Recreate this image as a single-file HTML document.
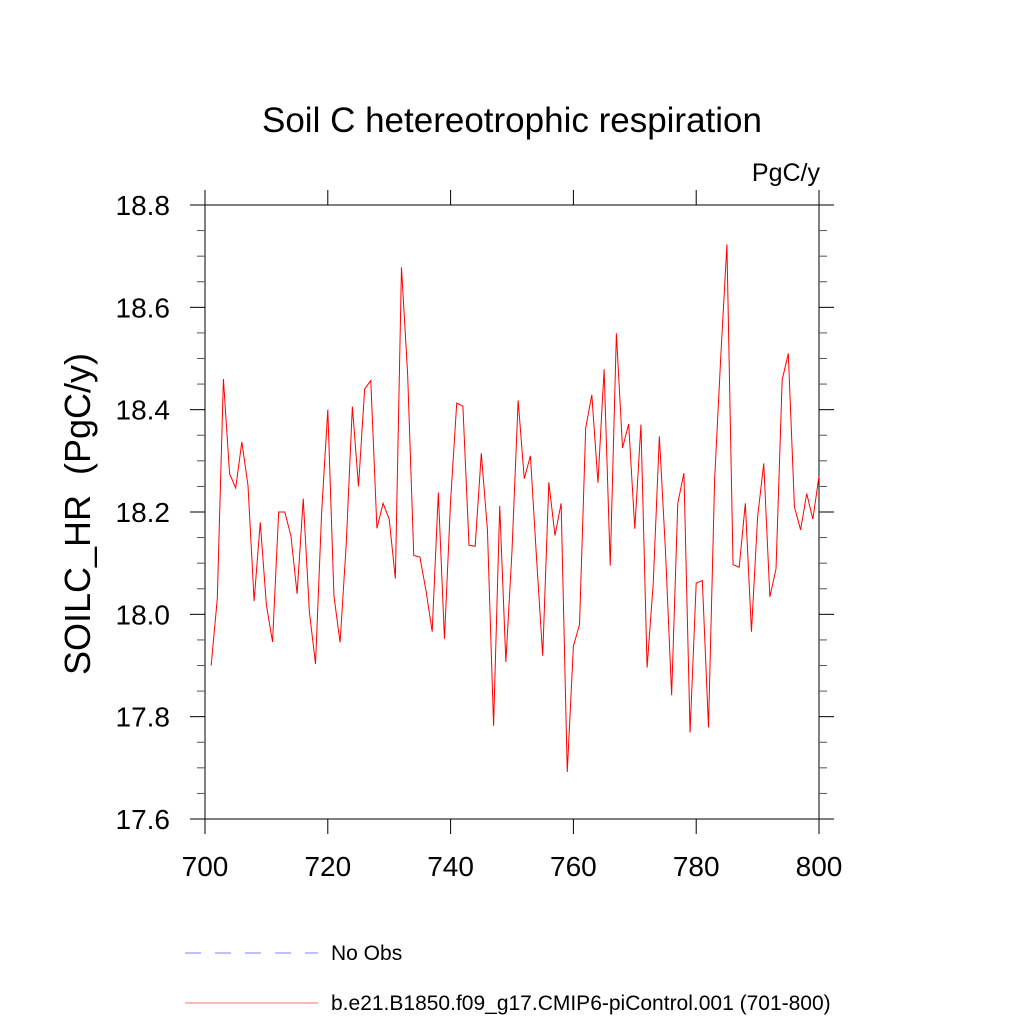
<!DOCTYPE html>
<html><head><meta charset="utf-8"><style>
html,body{margin:0;padding:0;background:#fff;}
svg{display:block;font-family:"Liberation Sans",sans-serif;}
</style></head><body>
<svg id="chart" width="1024" height="1024" viewBox="0 0 1024 1024" xmlns="http://www.w3.org/2000/svg">
<rect width="1024" height="1024" fill="#fff"/>
<text x="512" y="132" font-size="35" text-anchor="middle">Soil C hetereotrophic respiration</text>
<text x="820" y="181" font-size="25" text-anchor="end">PgC/y</text>
<text transform="translate(90,514) rotate(-90)" font-size="36" text-anchor="middle" xml:space="preserve">SOILC_HR  (PgC/y)</text>
<g id="axes"></g>
<g id="series"></g>
<g>
<line x1="185" y1="953" x2="318" y2="953" stroke="#8080ff" stroke-width="1" stroke-dasharray="16,14"/>
<text x="331" y="960" font-size="21">No Obs</text>
<line x1="185" y1="1003" x2="318" y2="1003" stroke="#ee7070" stroke-width="1"/>
<text x="331" y="1010" font-size="21">b.e21.B1850.f09_g17.CMIP6-piControl.001 (701-800)</text>
</g>
</svg>
<script>
const years = [];
for (let y = 701; y <= 800; y++) years.push(y);
const values = [17.90,18.03,18.46,18.275,18.247,18.337,18.252,18.026,18.18,18.018,
17.946,18.20,18.20,18.153,18.04,18.226,18.005,17.903,18.20,18.40,
18.036,17.945,18.137,18.406,18.25,18.44,18.457,18.168,18.217,18.186,
18.07,18.678,18.47,18.115,18.112,18.046,17.966,18.238,17.952,18.222,
18.413,18.407,18.135,18.133,18.315,18.165,17.782,18.212,17.907,18.124,
18.418,18.265,18.31,18.109,17.919,18.258,18.154,18.217,17.692,17.938,
17.98,18.364,18.429,18.257,18.479,18.095,18.549,18.325,18.372,18.167,
18.371,17.896,18.06,18.348,18.123,17.842,18.217,18.276,17.769,18.061,
18.066,17.779,18.263,18.503,18.723,18.097,18.092,18.217,17.966,18.19,
18.295,18.034,18.089,18.458,18.51,18.21,18.165,18.236,18.186,18.27];
const xTicks = [700,720,740,760,780,800];
const yTicks = [17.6,17.8,18.0,18.2,18.4,18.6,18.8];
const xMin=700,xMax=800,yMin=17.6,yMax=18.8;
const L=205,R=819,T=205,B=819;
const NS='http://www.w3.org/2000/svg';
function sx(v){return L+(v-xMin)/(xMax-xMin)*(R-L);}
function sy(v){return B-(v-yMin)/(yMax-yMin)*(B-T);}
function mk(tag,attrs,parent){const e=document.createElementNS(NS,tag);for(const k in attrs)e.setAttribute(k,attrs[k]);parent.appendChild(e);return e;}
const axes=document.getElementById('axes');
const box=mk('rect',{x:L,y:T,width:R-L,height:B-T,fill:'none',stroke:'#000','stroke-width':1},axes);


xTicks.forEach(v=>{
  const x=sx(v);
  const t1=mk('line',{x1:x,y1:B,x2:x,y2:B+15,stroke:'#000','stroke-width':1},axes);
  
  
  const t2=mk('line',{x1:x,y1:T,x2:x,y2:T-15,stroke:'#000','stroke-width':1},axes);
  
  
  const lb=mk('text',{x:x,y:B+57,'font-size':28,'text-anchor':'middle'},axes);
  lb.textContent=v;
  
  
});
for(let i=0;i<=24;i++){
  const v=yMin+i*0.05;const y=sy(v);
  const major=(i%4===0);
  const len=major?15:8;
  const a=mk('line',{x1:L,y1:y,x2:L-len,y2:y,stroke:major?'#000':'#555','stroke-width':1},axes);
  
  
  const b=mk('line',{x1:R,y1:y,x2:R+len,y2:y,stroke:major?'#000':'#555','stroke-width':1},axes);
  
  
}
yTicks.forEach(v=>{
  const lb=mk('text',{x:L-35,y:sy(v)+10,'font-size':28,'text-anchor':'end'},axes);
  lb.textContent=v.toFixed(1);
  
  
});
const series=document.getElementById('series');
const pts=years.map((yr,i)=>sx(yr).toFixed(2)+','+sy(values[i]).toFixed(2)).join(' ');
const line=mk('polyline',{points:pts,fill:'none',stroke:'#ff0000','stroke-width':1},series);


</script>
</body></html>
